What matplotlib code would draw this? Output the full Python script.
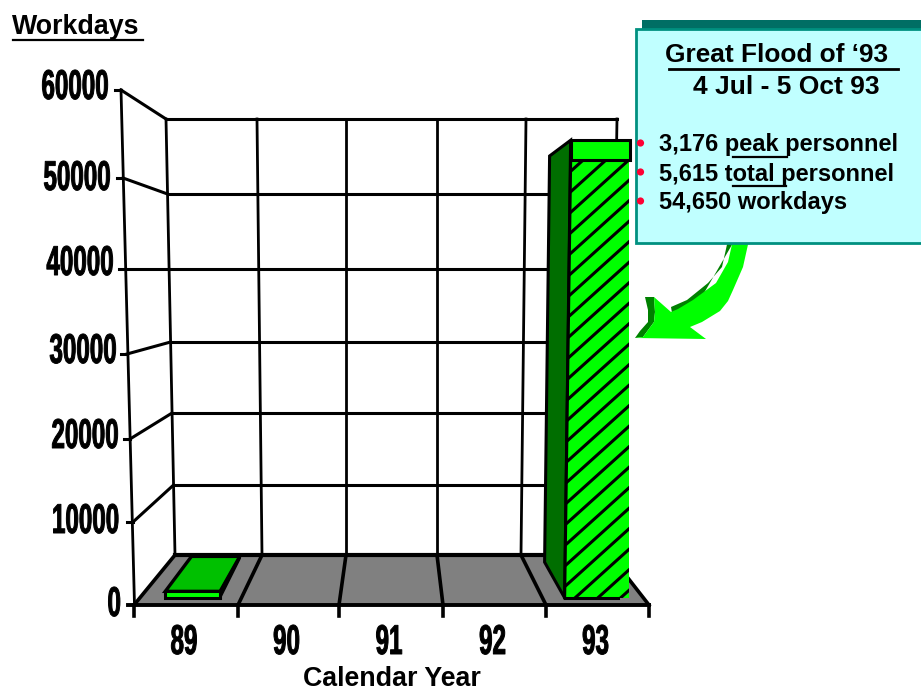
import matplotlib
matplotlib.use("Agg")
import matplotlib.pyplot as plt
import matplotlib.patheffects as pe
import numpy as np
from matplotlib.patches import Polygon, Rectangle, Circle
from matplotlib.transforms import Affine2D

# Chart values
years = ["89", "90", "91", "92", "93"]
workdays = [800, 0, 0, 0, 54650]
tick_values = [0, 10000, 20000, 30000, 40000, 50000, 60000]
tick_labels = ["0", "10000", "20000", "30000", "40000", "50000", "60000"]

# Hand-built pseudo-3D box: pixel calibration of front and back planes
FRONT_Y = [605, 522, 439, 354, 269, 178, 90]
BACK_Y = [555, 485, 413, 342, 269, 194, 119]
AXIS_X = [134.5, 133, 130, 127, 125, 123, 121]
LABEL_Y = [605, 522, 437, 352, 264, 179, 88]
LABEL_RIGHT = [121, 119.5, 119, 117, 114, 111, 109]
FRONT_X = [134, 238, 339, 443, 546, 649]
FLOOR_BACK_X = [175, 262, 346, 437, 521, 610]
TOP_BACK_X = [166, 257, 346, 437, 526, 617]
BAR_FRONT, BAR_BACK = 0.143, 0.857
BAR_SPANS = {0: (0.25, 0.79), 4: (0.22, 0.86)}

FONT = "Liberation Sans"
CONDENSE = 0.58
DIGIT_PX = 13.6

fig = plt.figure(figsize=(9.21, 6.92), dpi=100)
ax = fig.add_axes([0, 0, 1, 1])
ax.set_xlim(0, 921)
ax.set_ylim(692, 0)
ax.axis("off")


class CondensedText(pe.AbstractPathEffect):
    """Squeeze glyphs horizontally about a fixed display x, thickening them a little."""

    def __init__(self, anchor_x, factor, stroke=0.7):
        super().__init__()
        self.anchor_x = anchor_x
        self.factor = factor
        self.stroke = stroke

    def draw_path(self, renderer, gc, tpath, affine, rgbFace=None):
        squeeze = (Affine2D().translate(-self.anchor_x, 0)
                   .scale(self.factor, 1).translate(self.anchor_x, 0))
        gc0 = renderer.new_gc()
        gc0.copy_properties(gc)
        gc0.set_foreground("black")
        gc0.set_linewidth(self.stroke)
        renderer.draw_path(gc0, tpath, affine + squeeze, rgbFace)
        gc0.restore()


def narrow_text(x, y, s):
    t = ax.text(x, y, s, ha="center", va="center", family=FONT, weight="bold", fontsize=30)
    anchor = ax.transData.transform((x, y))[0]
    t.set_path_effects([CondensedText(anchor, CONDENSE)])
    return t


def project_y(value, depth):
    front = np.interp(value, tick_values, FRONT_Y)
    back = np.interp(value, tick_values, BACK_Y)
    return (1 - depth) * front + depth * back


def project_x(slot, frac, depth):
    left = (1 - depth) * FRONT_X[slot] + depth * FLOOR_BACK_X[slot]
    right = (1 - depth) * FRONT_X[slot + 1] + depth * FLOOR_BACK_X[slot + 1]
    return left + frac * (right - left)


def line(xs, ys, lw=2.0, z=3, color="black"):
    ax.plot(xs, ys, color=color, lw=lw, solid_capstyle="projecting", zorder=z)


# Floor
ax.add_patch(Polygon([(FRONT_X[0], FRONT_Y[0]), (FLOOR_BACK_X[0], BACK_Y[0]),
                      (FLOOR_BACK_X[-1], BACK_Y[0]), (FRONT_X[-1], FRONT_Y[0])],
                     facecolor="#808080", edgecolor="none", zorder=1))

# Back wall gridlines and verticals
for i, yb in enumerate(BACK_Y):
    xl = np.interp(yb, [BACK_Y[-1], BACK_Y[0]], [TOP_BACK_X[0], FLOOR_BACK_X[0]])
    line([xl, TOP_BACK_X[-1]], [yb, yb], lw=2.2 if i else 3.0)
for xt, xb in zip(TOP_BACK_X, FLOOR_BACK_X):
    line([xt, xb], [BACK_Y[-1], BACK_Y[0]], lw=2.0)

# Side wall connectors and left axis
for yf, yb, xf in zip(FRONT_Y[1:], BACK_Y[1:], AXIS_X[1:]):
    xb = np.interp(yb, [BACK_Y[-1], BACK_Y[0]], [TOP_BACK_X[0], FLOOR_BACK_X[0]])
    line([xf, xb], [yf, yb], lw=2.2)
    line([xf - 6, xf], [yf, yf], lw=2.2)
line([AXIS_X[-1], AXIS_X[0]], [FRONT_Y[-1], FRONT_Y[0]], lw=2.0)

# Floor lines and category ticks
line([FRONT_X[0], FRONT_X[-1]], [FRONT_Y[0], FRONT_Y[0]], lw=2.8, z=4)
line([128, 134], [FRONT_Y[0], FRONT_Y[0]], lw=2.8, z=4)
for xf, xb in zip(FRONT_X, FLOOR_BACK_X):
    line([xf, xb], [FRONT_Y[0], BACK_Y[0]], lw=2.6, z=2)
    line([xf, xf], [FRONT_Y[0], 616], lw=2.6, z=4)

# Bars
for slot, value in enumerate(workdays):
    if value <= 0:
        continue
    fa, fb = BAR_SPANS[slot]
    y0f = project_y(0, BAR_FRONT)
    y1f = project_y(value, BAR_FRONT)
    y0b = project_y(0, BAR_BACK)
    y1b = project_y(value, BAR_BACK)
    xfl = project_x(slot, fa, BAR_FRONT)
    xfr = project_x(slot, fb, BAR_FRONT)
    xbl = project_x(slot, fa, BAR_BACK)
    xbr = project_x(slot, fb, BAR_BACK)
    if value > 10000:
        lid = 20
        xtop = xfl + 6
        ax.add_patch(Polygon([(xbl + 5, y1b), (xtop, y1f), (xfl, y0f), (xbl, y0b)],
                             facecolor="#006E00", edgecolor="black", lw=2.2,
                             joinstyle="miter", zorder=5))
        face = Polygon([(xtop - 1, y1f + lid), (xfr, y1f + lid), (xfr, y0f), (xfl, y0f)],
                       facecolor="#00FF00", edgecolor="none", zorder=6)
        ax.add_patch(face)
        # Diagonal fill strokes, clipped to the front face
        for c in np.arange(y1f, y0f + (xfr - xfl) + 20, 20.5):
            strokes, = ax.plot([xfl - 5, xfr + 5], [c, c - (xfr - xfl + 10) * 0.9],
                               color="black", lw=2.2, zorder=6.5)
            strokes.set_clip_path(face)
        ax.add_patch(Rectangle((xtop, y1f), xfr - xtop + 1, lid,
                               facecolor="#00FF00", edgecolor="black", lw=2.2, zorder=7))
        line([xtop, xfl], [y1f + lid, y0f], lw=2.2, z=7)
        line([xfl, xfr - 11], [y0f, y0f], lw=2.2, z=7)
    else:
        ax.add_patch(Polygon([(xfl, y1f), (xbl, y1b), (xbr, y1b), (xfr, y1f)],
                             facecolor="#00C000", edgecolor="black", lw=2.4,
                             joinstyle="miter", zorder=5))
        ax.add_patch(Polygon([(xfr, y1f), (xbr, y1b), (xbr, y1b + 2), (xfr, y0f)],
                             facecolor="black", edgecolor="black", lw=1.6, zorder=5))
        ax.add_patch(Rectangle((xfl, y1f), xfr - xfl, y0f - y1f,
                               facecolor="#00FF00", edgecolor="black", lw=2.2, zorder=6))

# Tick and category labels
for ly, lx, lab in zip(LABEL_Y, LABEL_RIGHT, tick_labels):
    narrow_text(lx - len(lab) * DIGIT_PX / 2, ly, lab)
for i, lab in enumerate(years):
    narrow_text((FRONT_X[i] + FRONT_X[i + 1]) / 2 - 2, 643, lab)

ax.text(392, 679, "Calendar Year", ha="center", va="center",
        family=FONT, weight="bold", fontsize=19.3)
ax.text(12, 27, "Workdays", ha="left", va="center",
        family=FONT, weight="bold", fontsize=19.3)
line([13, 143], [40, 40], lw=1.6)

# Curved arrow from callout to the 1993 bar
ax.add_patch(Polygon([(728, 240), (722, 267), (708, 283), (687, 300), (671, 307),
                      (672, 313), (700, 300), (733, 243)],
                     facecolor="#008000", edgecolor="none", zorder=8))
ax.add_patch(Polygon([(645, 297), (654, 297), (655, 312), (654, 322), (643, 337),
                      (635, 338), (640, 331), (648, 322), (648, 310)],
                     facecolor="#008000", edgecolor="none", zorder=8))
ax.add_patch(Polygon([(733, 240), (728, 262), (716, 283), (693, 300), (678, 309),
                      (671, 312), (654, 297), (655, 312), (654, 322), (643, 337),
                      (635, 338), (706, 339), (690, 327), (702, 322), (720, 311),
                      (728, 301), (733, 290), (743, 267), (749, 240)],
                     facecolor="#00FF00", edgecolor="none", zorder=9))

# Callout box
ax.add_patch(Rectangle((642, 20), 290, 10, facecolor="#006E64", edgecolor="none", zorder=10))
ax.add_patch(Rectangle((635.5, 29), 300, 214, facecolor="#C0FFFF", edgecolor="#009080",
                       lw=2.0, zorder=11))
ax.text(776.5, 55, "Great Flood of \u201893", ha="center", va="center",
        family=FONT, weight="bold", fontsize=18.9, zorder=12)
line([669, 898], [69, 69], lw=2.0, z=12)
ax.text(786.5, 87, "4 Jul - 5 Oct 93", ha="center", va="center",
        family=FONT, weight="bold", fontsize=19, zorder=12)
items = ["3,176 peak personnel", "5,615 total personnel", "54,650 workdays"]
for y, item in zip([145, 174, 203], items):
    ax.add_patch(Circle((640.5, y - 2), 3.6, facecolor="#FF0033", edgecolor="none", zorder=12))
    ax.text(659, y, item, ha="left", va="center",
            family=FONT, weight="bold", fontsize=17, zorder=12)
line([733, 787], [157, 157], lw=1.6, z=13)
line([733, 786], [186, 186], lw=1.6, z=13)

fig.savefig("out.png", dpi=100, facecolor="white")
